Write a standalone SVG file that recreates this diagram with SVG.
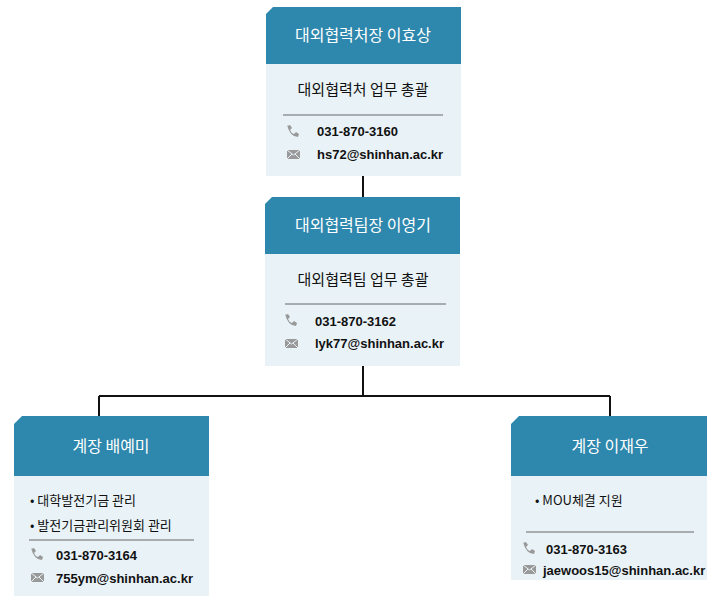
<svg xmlns="http://www.w3.org/2000/svg" width="714" height="602" viewBox="0 0 714 602">
<style>
.hd{fill:#2e87ad}.bd{fill:#e9f3f7}
.ht{font-family:"Noto Sans CJK KR","Noto Sans",sans-serif;font-size:16px;fill:#fff;text-anchor:middle}
.tt{font-family:"Noto Sans CJK KR","Noto Sans",sans-serif;font-size:15px;fill:#111;text-anchor:middle}
.bt{font-family:"Noto Sans CJK KR","Noto Sans",sans-serif;font-size:13px;fill:#111}
.ct{font-family:"Liberation Sans",Arial,sans-serif;font-size:13px;font-weight:bold;fill:#111}
.sep{stroke:#666;stroke-width:1}
.ic{fill:#999}
.cn{stroke:#111;stroke-width:2;fill:none}
</style>
<defs>
<g id="ph"><path class="ic" d="M0,0 l3,-1 2,3 -2,2 q1,3 4,4 l2,-2 3,2 -1,3 q-8,0 -11,-12z"/></g>
<g id="ml"><rect class="ic" x="0" y="0" width="13" height="9"/><path d="M0,0 L6.5,5 13,0 M0,9 L5,4 M13,9 L8,4" stroke="#e9f3f7" stroke-width="1" fill="none"/></g>
</defs>
<g id="connectors">
<path class="cn" d="M363,176 V197 M363,366 V396 M99,396 H610 M99,396 V416 M610,396 V416"/>
</g>
<g id="n1">
<path class="hd" d="M273,7 H461 V64 H266 V14 Z"/>
<rect class="bd" x="266" y="64" width="195" height="112"/>
<text class="ht" x="363" y="41">대외협력처장 이효상</text>
<text class="tt" x="363" y="95">대외협력처 업무 총괄</text>
<line class="sep" x1="283" y1="115" x2="443" y2="115"/>
<use href="#ph" x="287" y="126"/><text class="ct" x="317" y="136">031-870-3160</text>
<use href="#ml" x="287" y="150"/><text class="ct" x="317" y="159">hs72@shinhan.ac.kr</text>
</g>
<g id="n2">
<path class="hd" d="M272,197 H460 V254 H265 V204 Z"/>
<rect class="bd" x="265" y="254" width="195" height="112"/>
<text class="ht" x="363" y="231">대외협력팀장 이영기</text>
<text class="tt" x="363" y="285">대외협력팀 업무 총괄</text>
<line class="sep" x1="285" y1="304" x2="446" y2="304"/>
<use href="#ph" x="285" y="315"/><text class="ct" x="315" y="326">031-870-3162</text>
<use href="#ml" x="285" y="339"/><text class="ct" x="315" y="348">lyk77@shinhan.ac.kr</text>
</g>
<g id="n3">
<path class="hd" d="M22,416 H209 V476 H14 V424 Z"/>
<rect class="bd" x="14" y="476" width="195" height="120"/>
<text class="ht" x="111" y="452">계장 배예미</text>
<text class="bt" x="30" y="505">• 대학발전기금  관리</text>
<text class="bt" x="30" y="530">• 발전기금관리위원회  관리</text>
<line class="sep" x1="29" y1="540" x2="194" y2="540"/>
<use href="#ph" x="31" y="549"/><text class="ct" x="56" y="560">031-870-3164</text>
<use href="#ml" x="31" y="573"/><text class="ct" x="56" y="583">755ym@shinhan.ac.kr</text>
</g>
<g id="n4">
<path class="hd" d="M519,416 H707 V476 H511 V424 Z"/>
<rect class="bd" x="511" y="476" width="196" height="104"/>
<text class="ht" x="610" y="452">계장 이재우</text>
<text class="bt" x="535" y="505">• MOU체결 지원</text>
<line class="sep" x1="526" y1="532" x2="694" y2="532"/>
<use href="#ph" x="523" y="543"/><text class="ct" x="546" y="554">031-870-3163</text>
<use href="#ml" x="523" y="565"/><text class="ct" x="543" y="575">jaewoos15@shinhan.ac.kr</text>
</g>
</svg>
